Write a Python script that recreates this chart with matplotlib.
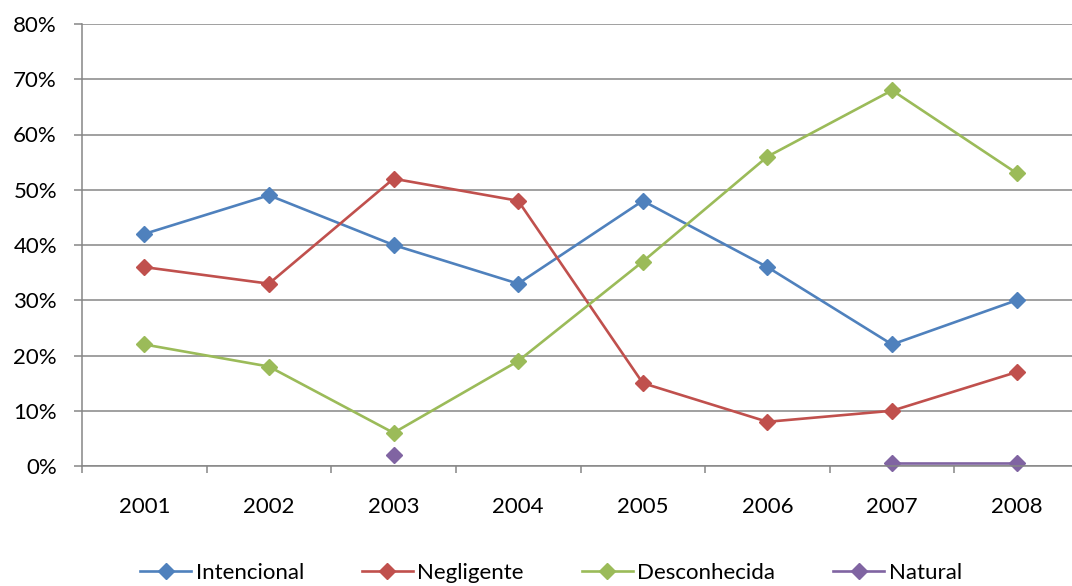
import numpy as np
import matplotlib.pyplot as plt
from matplotlib.ticker import PercentFormatter

years = ['2001', '2002', '2003', '2004', '2005', '2006', '2007', '2008']
intencional = [42, 49, 40, 33, 48, 36, 22, 30]
negligente = [36, 33, 52, 48, 15, 8, 10, 17]
desconhecida = [22, 18, 6, 19, 37, 56, 68, 53]
natural = [np.nan, np.nan, 2, np.nan, np.nan, np.nan, 0.5, 0.5]

series = [
    ('Intencional', intencional, '#4F81BD'),
    ('Negligente', negligente, '#C0504D'),
    ('Desconhecida', desconhecida, '#9BBB59'),
    ('Natural', natural, '#8064A2'),
]

plt.rcParams['font.family'] = ['Lato', 'DejaVu Sans']

fig = plt.figure(figsize=(10.72, 5.86), dpi=100)
# axes runs past the right edge, the reference is cropped there
ax = fig.add_axes([82 / 1072, 120 / 586, 997 / 1072, 442 / 586])

x = np.arange(1, len(years) + 1)
for name, vals, col in series:
    ax.plot(x, vals, color=col, lw=1.9, marker='D', ms=8.5, label=name, clip_on=False)

ax.set_xlim(0.5, len(years) + 0.5)
ax.set_ylim(0, 80)
ax.set_yticks(np.arange(0, 81, 10))
ax.yaxis.set_major_formatter(PercentFormatter(decimals=0))
ax.set_xticks(np.arange(0.5, len(years) + 1, 1))
ax.set_xticklabels([])
ax.set_xticks(x, minor=True)
ax.set_xticklabels(years, minor=True)

grey = '#868686'
ax.grid(axis='y', color=grey, lw=1.1)
ax.set_axisbelow(True)
for s in ['top', 'right']:
    ax.spines[s].set_visible(False)
for s in ['left', 'bottom']:
    ax.spines[s].set_color(grey)
    ax.spines[s].set_linewidth(1.1)

ax.tick_params(axis='y', direction='out', length=6, width=1.1, color=grey,
               labelsize=16, pad=12)
ax.tick_params(axis='x', which='major', direction='out', length=5, width=1.1, color=grey)
ax.tick_params(axis='x', which='minor', length=0, labelsize=16, pad=22)

fig.legend(loc='center', bbox_to_anchor=(551 / 1072, 13 / 586), ncol=4, frameon=False,
           fontsize=16, handlelength=2.3, handletextpad=0.2, columnspacing=2.6)

fig.savefig('out.png', dpi=100)
